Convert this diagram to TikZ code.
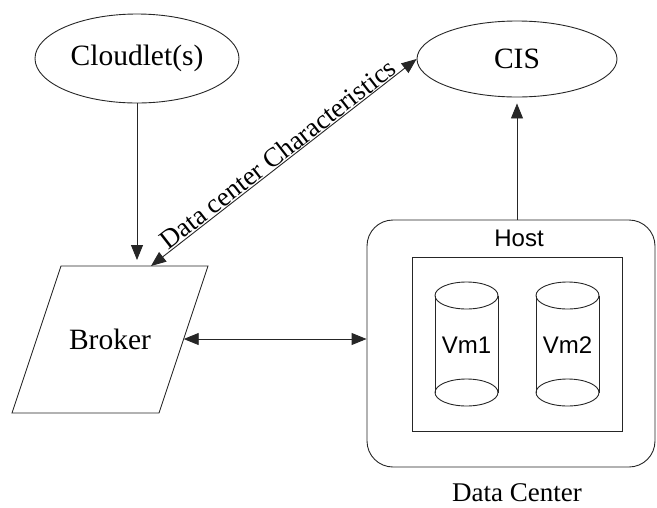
\documentclass[tikz,border=0pt]{standalone}
\usepackage{fontspec}
\setmainfont{Liberation Serif}
\newfontfamily\arialfont{Liberation Sans}
\usetikzlibrary{shapes.geometric,arrows.meta}
\begin{document}
\begin{tikzpicture}[x=1pt,y=-1pt,
  every node/.style={inner sep=0pt},
  ln/.style={draw=black!85, line width=0.9pt},
  arr/.style={ln, -{Triangle[length=15pt,width=12pt]}},
  darr/.style={ln, {Triangle[length=15pt,width=12pt]}-{Triangle[length=15pt,width=12pt]}},
  ell/.style={ellipse, ln},
  big/.style={font=\fontsize{29.5}{31}\selectfont},
  mid/.style={font=\fontsize{27}{29}\selectfont},
  sans/.style={font=\arialfont\fontsize{24}{26}\selectfont}]
\useasboundingbox (0,0) rectangle (657,507);
\node[ell, big, minimum width=204pt, minimum height=89pt] (cl) at (137,58.5) {Cloudlet(s)};
\node[ell, big, minimum width=200pt, minimum height=76pt] (cis) at (517,59) {CIS};
% broker parallelogram
\draw[ln] (12,413) -- (61,266) -- (208,266) -- (159,413) -- cycle;
\node[big] (br) at (110,339.5) {Broker};
\coordinate (brtop) at (151,266);
\coordinate (brright) at (183.7,339);
\node[ln, rounded corners=26pt, minimum width=288pt, minimum height=247pt] (dc) at (511,343.5) {};
\node[ln, minimum width=210pt, minimum height=174pt] (host) at (517,344) {};
\node[sans] (hostlbl) at (519,238) {Host};
\node[mid] (dclbl) at (517,493) {Data Center};
% cylinders
\foreach \n/\cx in {1/466.5,2/567.5}{
  \draw[ln] (\cx,295.5) ellipse [x radius=31.5, y radius=13.5];
  \draw[ln] (\cx,392.5) ellipse [x radius=31.5, y radius=13.5];
  \draw[ln] (\cx-31.5,295.5) -- (\cx-31.5,392.5);
  \draw[ln] (\cx+31.5,295.5) -- (\cx+31.5,392.5);
  \node[sans] (vm\n) at (\cx,345) {Vm\n};
}
% connectors
\draw[arr, shorten >=6pt] (cl.south) -- (cl.south |- brtop);
\draw[darr] (brtop) -- node[mid, sloped, above=0.5pt] {Data center Characteristics} (cis.west);
\draw[darr] (brright) -- (brright -| dc.west);
\draw[arr, shorten >=6pt] (cis.south |- dc.north) -- (cis.south);
\end{tikzpicture}
\end{document}
